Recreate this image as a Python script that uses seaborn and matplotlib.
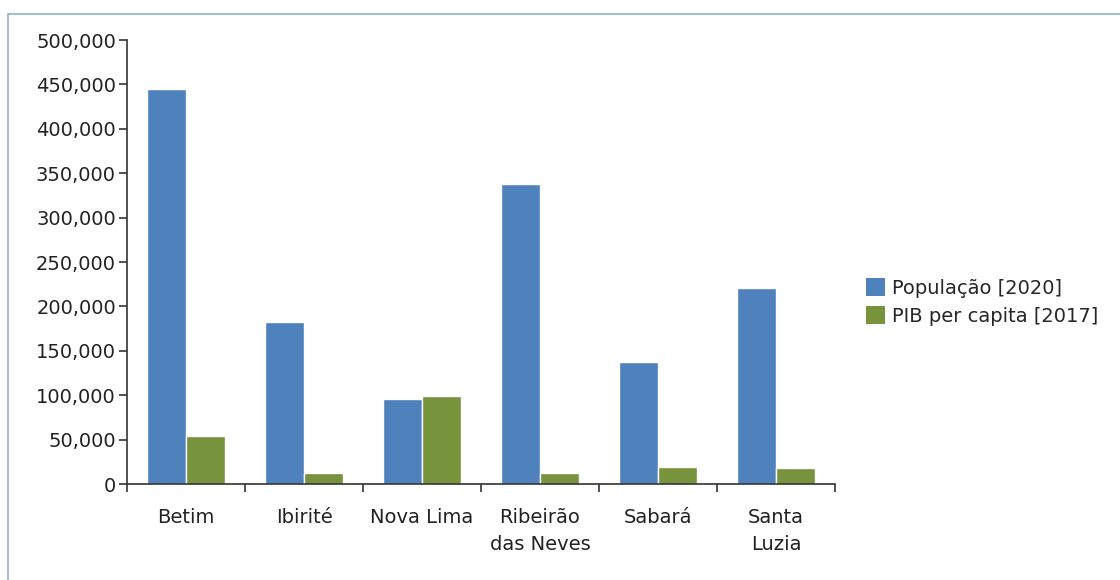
import matplotlib
matplotlib.use('Agg')
import matplotlib.pyplot as plt
import matplotlib.ticker as mticker
from matplotlib.patches import Rectangle, Patch
import pandas as pd
import seaborn as sns

# dados
cidades = ['Betim', 'Ibirité', 'Nova Lima', 'Ribeirão\ndas Neves', 'Sabará', 'Santa\nLuzia']
populacao = [444784, 182153, 96157, 338197, 137877, 220444]
pib_per_capita = [54400, 12000, 99000, 12000, 19500, 17700]
series = ['População [2020]', 'PIB per capita [2017]']
cores = ['#4F81BD', '#77933C']

df = pd.DataFrame({
    'cidade': cidades * 2,
    'valor': populacao + pib_per_capita,
    'serie': [series[0]] * len(cidades) + [series[1]] * len(cidades),
})

sns.set_style('white')
plt.rcParams['font.family'] = ['DejaVu Sans']

fig = plt.figure(figsize=(11.2, 5.8), dpi=100)
ax = fig.add_axes([127 / 1120, 1 - 484 / 580, (835 - 127) / 1120, (484 - 40) / 580])

sns.barplot(data=df, x='cidade', y='valor', hue='serie', palette=cores,
            width=0.66, saturation=1, ax=ax, legend=False)

# moldura
fig.patches.append(Rectangle((8 / 1120, -0.1), 1.2, 1 - 14 / 580 + 0.1,
                             transform=fig.transFigure, fill=False,
                             edgecolor='#8FB0D8', linewidth=1.2))

ax.set_xlim(-0.5, len(cidades) - 0.5)
ax.set_ylim(0, 500000)
ax.set_xlabel('')
ax.set_ylabel('')
ax.yaxis.set_major_locator(mticker.MultipleLocator(50000))
ax.yaxis.set_major_formatter(mticker.FuncFormatter(lambda v, p: f'{int(v):,}'))

# ticks nas divisoes, rotulos no centro
ax.set_xticks([i - 0.5 for i in range(len(cidades) + 1)])
ax.set_xticklabels([])
ax.set_xticks(range(len(cidades)), minor=True)
ax.set_xticklabels(cidades, minor=True, fontsize=14, color='#222222', linespacing=1.55,
                   va='top')
ax.tick_params(axis='x', which='minor', bottom=True, length=0, pad=17)
ax.tick_params(axis='x', which='major', bottom=True, length=6, width=1.2,
               color='#333333', direction='out')
ax.tick_params(axis='y', left=True, length=6, width=1.2, color='#333333', direction='out',
               labelsize=14, labelcolor='#222222', pad=2)

for s in ['top', 'right']:
    ax.spines[s].set_visible(False)
for s in ['left', 'bottom']:
    ax.spines[s].set_color('#333333')
    ax.spines[s].set_linewidth(1.2)

handles = [Patch(facecolor=c, edgecolor='none') for c in cores]
fig.legend(handles, series, loc='center left', bbox_to_anchor=(858 / 1120, 1 - 302 / 580),
           frameon=False, fontsize=14, handlelength=1.0, handleheight=1.0,
           handletextpad=0.35, labelspacing=0.45, borderaxespad=0)

fig.savefig('out.png', dpi=100)
